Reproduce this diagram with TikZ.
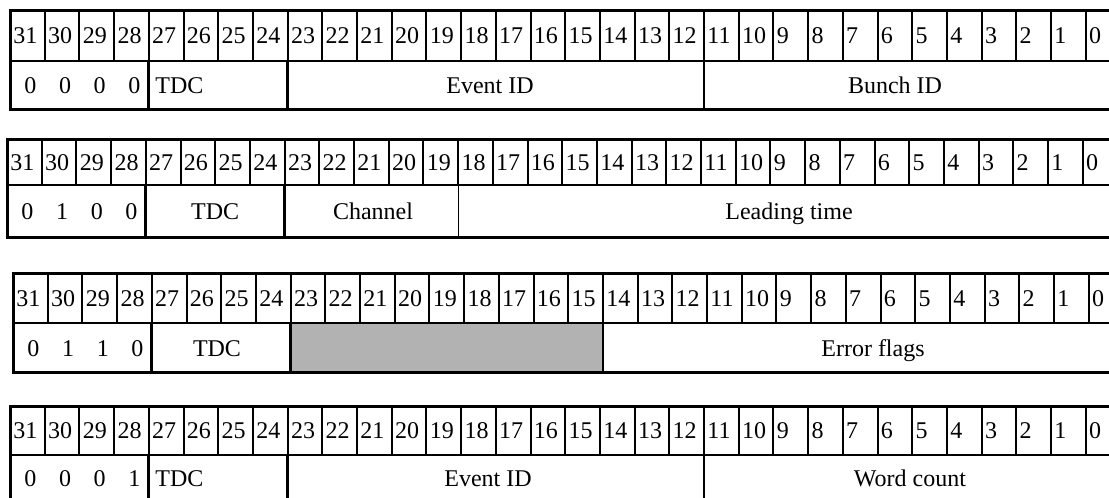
\documentclass[tikz,border=0pt]{standalone}
\usepackage{fontspec}
\setmainfont{Liberation Serif}
\usepackage{tikz}

% one row of bit numbers 31..0, between #2 (top) and #3 (bottom)
\newcommand{\bitheader}[3]{%
  \foreach \b in {0,...,31}{
    \pgfmathsetmacro{\xl}{10+(31-\b)*34.7}
    \node[bitnum] (#1n\b) at ({\xl+3},{(#2+#3)/2}) {\b};
  }
  \foreach \k in {1,...,31}{
    \draw[bitline] ({10+\k*34.7},#2) -- ({10+\k*34.7},#3);
  }
}

\begin{document}
\begin{tikzpicture}[
    x=0.5pt, y=-0.5pt,
    frame/.style={line width=1.5pt},
    midline/.style={line width=1.1pt},
    bitline/.style={line width=1pt},
    fieldline/.style={line width=1.4pt},
    thinline/.style={line width=0.6pt},
    bitnum/.style={anchor=west, inner sep=0pt, text height=8pt, text depth=0pt,
        font=\fontsize{12}{14}\selectfont},
    fieldtxt/.style={inner sep=0pt, text height=8pt, text depth=0pt,
        font=\fontsize{12}{14}\selectfont},
    reserved/.style={fill=black!30}
]
\useasboundingbox (0,0) rectangle (1109,498);

% header word
\begin{scope}
\bitheader{h}{10}{61}
\draw[frame] (10,10) rectangle (1122,109);
\draw[midline] (10,61) -- (1122,61);
\draw[fieldline] (148.8,61) -- (148.8,109);
\draw[fieldline] (287.6,61) -- (287.6,109);
\draw[thinline] (704,61) -- (704,109);
\foreach \v [count=\i from 0] in {0,0,0,0}
  \node[fieldtxt] (hcode\i) at ({30.35+\i*34.7},85) {\v};
\node[fieldtxt, anchor=west] (htdc) at (155,85) {TDC};
\node[fieldtxt] (hevent) at (490,85) {Event ID};
\node[fieldtxt] (hbunch) at (895,85) {Bunch ID};
\end{scope}

% leading edge word
\begin{scope}[xshift=-1.5pt]
\bitheader{l}{139}{185}
\draw[frame] (10,139) rectangle (1122,237);
\draw[midline] (10,185) -- (1122,185);
\draw[fieldline] (148.8,185) -- (148.8,237);
\draw[fieldline] (287.6,185) -- (287.6,237);
\draw[thinline] (461.1,185) -- (461.1,237);
\foreach \v [count=\i from 0] in {0,1,0,0}
  \node[fieldtxt] (lcode\i) at ({30.35+\i*34.7},211) {\v};
\node[fieldtxt] (ltdc) at (218.2,211) {TDC};
\node[fieldtxt] (lchan) at (376,211) {Channel};
\node[fieldtxt] (ltime) at (792,211) {Leading time};
\end{scope}

% error word
\begin{scope}[xshift=1.5pt]
\fill[reserved] (287.6,323) rectangle (599.9,372);
\bitheader{e}{273}{323}
\draw[frame] (10,273) rectangle (1122,372);
\draw[midline] (10,323) -- (1122,323);
\draw[fieldline] (148.8,323) -- (148.8,372);
\draw[fieldline] (287.6,323) -- (287.6,372);
\draw[fieldline] (599.9,323) -- (599.9,372);
\foreach \v [count=\i from 0] in {0,1,1,0}
  \node[fieldtxt] (ecode\i) at ({30.35+\i*34.7},348) {\v};
\node[fieldtxt] (etdc) at (214,348) {TDC};
\node[fieldtxt] (eflags) at (870,348) {Error flags};
\end{scope}

% trailer word
\begin{scope}
\bitheader{t}{406}{455}
\draw[frame] (10,406) rectangle (1122,504);
\draw[midline] (10,455) -- (1122,455);
\draw[fieldline] (148.8,455) -- (148.8,504);
\draw[fieldline] (287.6,455) -- (287.6,504);
\draw[thinline] (704,455) -- (704,504);
\foreach \v [count=\i from 0] in {0,0,0,1}
  \node[fieldtxt] (tcode\i) at ({30.35+\i*34.7},478) {\v};
\node[fieldtxt, anchor=west] (ttdc) at (155,478) {TDC};
\node[fieldtxt] (tevent) at (488,478) {Event ID};
\node[fieldtxt] (tcount) at (910,478) {Word count};
\end{scope}
\end{tikzpicture}
\end{document}
